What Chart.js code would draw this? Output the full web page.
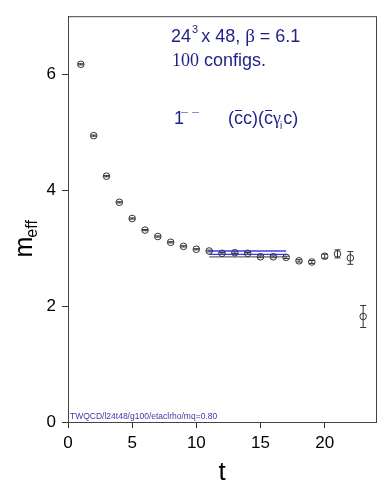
<!DOCTYPE html>
<html>
<head>
<meta charset="utf-8">
<script src="https://cdn.jsdelivr.net/npm/chart.js@4"></script>
<style>
  html, body { margin: 0; padding: 0; background: #fff; }
  #wrap { width: 382px; height: 491px; }
</style>
</head>
<body>
<div id="wrap"><canvas id="myChart" width="382" height="491"></canvas></div>
<script>
// data
const tVals = [1, 2, 3, 4, 5, 6, 7, 8, 9, 10, 11, 12, 13, 14, 15, 16, 17, 18, 19, 20, 21, 22, 23];
const mEff = [6.17, 4.94, 4.24, 3.79, 3.51, 3.31, 3.20, 3.10, 3.03, 2.98, 2.95, 2.91, 2.92, 2.91,
  2.85, 2.85, 2.84, 2.78, 2.76, 2.86, 2.90, 2.83, 1.82];
const mErr = [0.01, 0.01, 0.01, 0.01, 0.01, 0.01, 0.01, 0.01, 0.01, 0.01, 0.015, 0.015, 0.015, 0.015,
  0.015, 0.015, 0.02, 0.02, 0.025, 0.035, 0.07, 0.11, 0.19];
const fitRange = [11, 17];
const fitBand = [2.95, 2.89];   // blue lines
const fitCentral = [2.85];      // grey line
const xTicks = [0, 5, 10, 15, 20];
const yTicks = [0, 2, 4, 6];

const navy = "#1f1f8c";
const SANS = "'Liberation Sans', Arial, sans-serif";
const SERIF = "'Liberation Serif', 'DejaVu Serif', serif";

function lineSet(y, color) {
  return {
    type: "line",
    data: fitRange.map((x) => ({ x: x, y: y })),
    borderColor: color,
    borderWidth: 1.3,
    pointRadius: 0,
    fill: false,
  };
}

// error bars + frame + text annotations
const extras = {
  id: "extras",
  beforeDatasetsDraw(chart) {
    const { ctx, scales } = chart;
    ctx.save();
    ctx.strokeStyle = "#333";
    ctx.lineWidth = 1;
    tVals.forEach((t, i) => {
      const x = scales.x.getPixelForValue(t);
      const y1 = scales.y.getPixelForValue(mEff[i] + mErr[i]);
      const y2 = scales.y.getPixelForValue(mEff[i] - mErr[i]);
      ctx.beginPath();
      ctx.moveTo(x, y1); ctx.lineTo(x, y2);
      ctx.moveTo(x - 3, y1); ctx.lineTo(x + 3, y1);
      ctx.moveTo(x - 3, y2); ctx.lineTo(x + 3, y2);
      ctx.stroke();
    });
    ctx.restore();
  },
  afterDraw(chart) {
    const { ctx, chartArea: a } = chart;
    ctx.save();
    ctx.strokeStyle = "#444";
    ctx.lineWidth = 1;
    ctx.strokeRect(a.left + 0.5, a.top + 0.5, a.right - a.left, a.bottom - a.top);

    ctx.fillStyle = navy;
    ctx.textBaseline = "alphabetic";
    ctx.textAlign = "left";

    // line 1
    let x = 171;
    ctx.font = "18px " + SANS;
    ctx.fillText("24", x, 42); x += ctx.measureText("24").width;
    ctx.font = "11px " + SANS;
    ctx.fillText("3", x + 1, 33); x += ctx.measureText("3").width + 4;
    ctx.font = "18px " + SANS;
    ctx.fillText("x 48, ", x, 42); x += ctx.measureText("x 48, ").width;
    ctx.font = "19px " + SERIF;
    ctx.fillText("β", x, 42); x += ctx.measureText("β").width;
    ctx.font = "18px " + SANS;
    ctx.fillText(" = 6.1", x, 42);

    // line 2
    ctx.font = "18px " + SERIF;
    ctx.fillText("100", 172, 66);
    let w = ctx.measureText("100").width;
    ctx.font = "18px " + SANS;
    ctx.fillText(" configs.", 172 + w, 66);

    // line 3
    ctx.font = "18px " + SANS;
    ctx.fillText("1", 174, 124);
    ctx.strokeStyle = "#8a8ad0";
    ctx.lineWidth = 1;
    ctx.beginPath();
    ctx.moveTo(181, 112.5); ctx.lineTo(188, 112.5);
    ctx.moveTo(192, 112.5); ctx.lineTo(199, 112.5);
    ctx.stroke();

    x = 228;
    ctx.strokeStyle = navy;
    const cbar = () => {
      const cw = ctx.measureText("c").width;
      ctx.fillText("c", x, 124);
      ctx.beginPath();
      ctx.moveTo(x + 1, 110.5); ctx.lineTo(x + cw - 1, 110.5);
      ctx.stroke();
      x += cw;
    };
    const txt = (s) => { ctx.fillText(s, x, 124); x += ctx.measureText(s).width; };
    txt("(");
    cbar();
    txt("c)(");
    cbar();
    ctx.font = "18px " + SERIF;
    txt("γ");
    ctx.font = "10px " + SANS;
    ctx.fillText("i", x - 1, 129); x += ctx.measureText("i").width;
    ctx.font = "18px " + SANS;
    txt("c)");

    // footer tag
    ctx.font = "8.5px " + SANS;
    ctx.fillStyle = "#3a3aa8";
    ctx.fillText("TWQCD/l24t48/g100/etaclrho/mq=0.80", 70, 419);

    // y title
    ctx.fillStyle = "#000";
    ctx.translate(32, 257.5);
    ctx.rotate(-Math.PI / 2);
    ctx.font = "25px " + SANS;
    ctx.fillText("m", 0, 0);
    const mw = ctx.measureText("m").width;
    ctx.font = "16px " + SANS;
    ctx.fillText("eff", mw - 1, 5);
    ctx.restore();
  },
};

const ctx = document.getElementById("myChart").getContext("2d");
new Chart(ctx, {
  type: "scatter",
  data: {
    datasets: [
      {
        data: tVals.map((t, i) => ({ x: t, y: mEff[i] })),
        pointRadius: 3.3,
        pointBorderWidth: 1,
        pointBorderColor: "#333",
        pointBackgroundColor: "rgba(0,0,0,0)",
        showLine: false,
      },
      ...fitBand.map((y) => lineSet(y, "#3a3af2")),
      ...fitCentral.map((y) => lineSet(y, "#666")),
    ],
  },
  options: {
    responsive: false,
    animation: false,
    layout: { padding: { top: 10, right: 6, left: 0, bottom: 0 } },
    plugins: { legend: { display: false }, tooltip: { enabled: false } },
    scales: {
      x: {
        type: "linear",
        min: 0,
        max: 24,
        afterFit: (s) => { s.height = 69; },
        afterBuildTicks: (s) => { s.ticks = xTicks.map((v) => ({ value: v })); },
        ticks: { font: { size: 17, family: SANS }, color: "#000", padding: 5, maxRotation: 0 },
        grid: { drawOnChartArea: false, drawTicks: true, tickLength: 6, color: "#333" },
        border: { color: "#444" },
        title: { display: true, text: "t", font: { size: 26, family: SANS }, color: "#000", padding: { top: 0, bottom: 3 } },
      },
      y: {
        type: "linear",
        min: 0,
        max: 7,
        afterFit: (s) => { s.width = 68; },
        afterBuildTicks: (s) => { s.ticks = yTicks.map((v) => ({ value: v })); },
        ticks: { font: { size: 17, family: SANS }, color: "#000", padding: 6 },
        grid: { drawOnChartArea: false, drawTicks: true, tickLength: 6, color: "#333" },
        border: { color: "#444" },
      },
    },
  },
  plugins: [extras],
});
</script>
</body>
</html>
